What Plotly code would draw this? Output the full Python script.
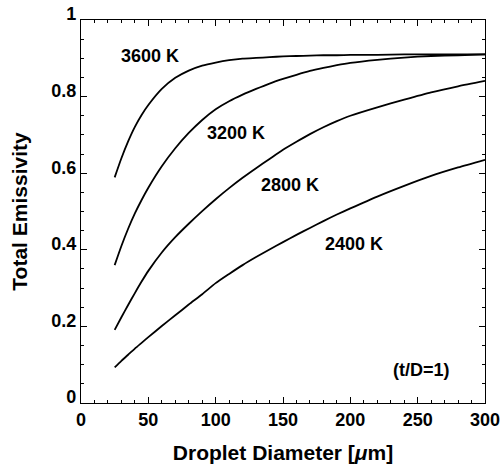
import plotly.graph_objects as go

diameter = [25, 30, 35, 40, 45, 50, 60, 70, 80, 90, 100, 110, 120, 130, 140,
            150, 160, 170, 180, 190, 200, 220, 240, 260, 280, 300]

emis_3600 = [0.589, 0.639, 0.683, 0.721, 0.752, 0.778, 0.820, 0.849, 0.868, 0.881,
             0.889, 0.895, 0.899, 0.901, 0.903, 0.905, 0.906, 0.907, 0.908, 0.908,
             0.909, 0.909, 0.910, 0.910, 0.910, 0.910]
emis_3200 = [0.360, 0.410, 0.455, 0.495, 0.530, 0.562, 0.618, 0.665, 0.705, 0.739,
             0.767, 0.788, 0.805, 0.820, 0.834, 0.846, 0.857, 0.867, 0.875, 0.882,
             0.888, 0.896, 0.902, 0.906, 0.908, 0.910]
emis_2800 = [0.191, 0.224, 0.256, 0.287, 0.317, 0.345, 0.393, 0.433, 0.468, 0.501,
             0.532, 0.561, 0.588, 0.613, 0.637, 0.661, 0.682, 0.702, 0.720, 0.736,
             0.750, 0.772, 0.792, 0.811, 0.827, 0.841]
emis_2400 = [0.093, 0.110, 0.126, 0.142, 0.157, 0.172, 0.201, 0.229, 0.257, 0.284,
             0.313, 0.337, 0.360, 0.381, 0.401, 0.420, 0.439, 0.457, 0.475, 0.492,
             0.508, 0.539, 0.567, 0.593, 0.615, 0.635]

series = [("3600 K", emis_3600), ("3200 K", emis_3200),
          ("2800 K", emis_2800), ("2400 K", emis_2400)]

labels = ["3600 K", "3200 K", "2800 K", "2400 K", "(t/D=1)"]
label_x = [51, 115, 155, 203, 253]
label_y = [0.906, 0.705, 0.569, 0.415, 0.086]

FONT = "Liberation Sans, Arial, Helvetica, sans-serif"

fig = go.Figure()
for name, ys in series:
    fig.add_trace(go.Scatter(x=diameter, y=ys, mode="lines", name=name,
                             line=dict(color="black", width=1.8, shape="spline", smoothing=0.6),
                             showlegend=False))

for t, xx, yy in zip(labels, label_x, label_y):
    fig.add_annotation(x=xx, y=yy, text=t, showarrow=False,
                       font=dict(family=FONT, size=18, color="black", weight="bold"))

axis_common = dict(
    showline=True, linecolor="black", linewidth=1.2, mirror="ticks",
    ticks="inside", ticklen=6, tickwidth=1, tickcolor="black",
    showgrid=False, zeroline=False, automargin=False,
    tickfont=dict(family=FONT, size=18, color="black", weight="bold"),
)

fig.update_xaxes(range=[0, 300], dtick=50, tick0=0,
                 minor=dict(dtick=10, ticks="inside", ticklen=3, tickcolor="black", showgrid=False),
                 title=dict(text="Droplet Diameter [<i>μ</i>m]", standoff=16,
                            font=dict(family=FONT, size=21, color="black", weight="bold")),
                 **axis_common)
fig.update_yaxes(range=[0, 1], dtick=0.2, tick0=0,
                 minor=dict(dtick=0.05, ticks="inside", ticklen=3, tickcolor="black", showgrid=False),
                 ticklabelshift=-6,
                 title=dict(text="Total Emissivity", standoff=17,
                            font=dict(family=FONT, size=21, color="black", weight="bold")),
                 **axis_common)

fig.update_layout(width=501, height=465,
                  margin=dict(l=81, r=16, t=20, b=62),
                  paper_bgcolor="white", plot_bgcolor="white")

fig.write_html("out.html")
